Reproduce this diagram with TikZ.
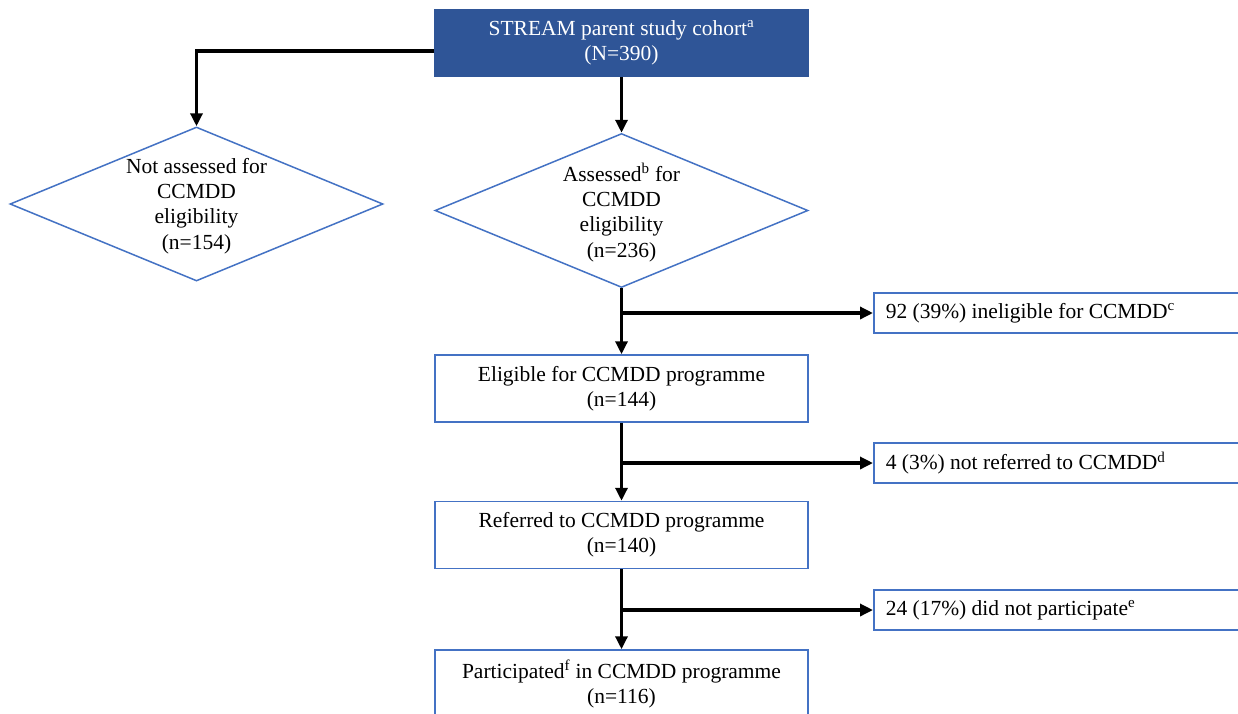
\documentclass[tikz,border=0pt]{standalone}
\usepackage{fontspec}
\setmainfont{Liberation Serif}
\usetikzlibrary{shapes.geometric,arrows.meta,calc}
\definecolor{boxblue}{HTML}{4472C4}
\definecolor{darkblue}{HTML}{2F5597}
\begin{document}
\begin{tikzpicture}[x=1pt,y=-1pt,
  txt/.style={font=\fontsize{21.5}{25.3}\selectfont, align=center, text=black, inner sep=0pt},
  mainbox/.style={draw=boxblue, line width=1.5pt, minimum width=373pt, minimum height=67pt, inner sep=0pt, txt},
  topbox/.style={mainbox, fill=darkblue, draw=darkblue, text=white, minimum height=66pt},
  dia/.style={diamond, draw=boxblue, line width=1.5pt, minimum width=373pt, minimum height=154pt, inner sep=0pt},
  sidebox/.style={draw=boxblue, line width=1.5pt, txt, align=flush left, text width=376pt, inner xsep=12pt, inner ysep=0pt, minimum height=40pt, anchor=west},
  arr/.style={line width=3.5pt, -{Triangle[length=13pt,width=12pt]}}]
\useasboundingbox (0,0) rectangle (1238,713);
\fill[white] (0,0) rectangle (1238,713);
\clip (0,0) rectangle (1238,713);

\node[topbox] (top) at (621.5,43) {STREAM parent study cohort\textsuperscript{a}\\(N=390)};

\node[dia] (d1) at (196.5,204) {};
\node[txt, yshift=-2pt] (d1t) at (d1) {Not assessed for\\CCMDD\\eligibility\\(n=154)};

\node[dia] (d2) at (621.5,210.5) {};
\node[txt, yshift=-2pt] (d2t) at (d2) {Assessed\textsuperscript{b} for\\CCMDD\\eligibility\\(n=236)};

\node[mainbox] (elig) at (621.5,388.5) {Eligible for CCMDD programme\\(n=144)};
\node[mainbox] (ref) at (621.5,535) {Referred to CCMDD programme\\(n=140)};
\node[mainbox, minimum height=68pt] (part) at (621.5,684) {Participated\textsuperscript{f} in CCMDD programme\\(n=116)};

\node[sidebox] (s1) at (873,313) {92 (39\%) ineligible for CCMDD\textsuperscript{c}};
\node[sidebox] (s2) at (873,463) {4 (3\%) not referred to CCMDD\textsuperscript{d}};
\node[sidebox] (s3) at (873,610) {24 (17\%) did not participate\textsuperscript{e}};

\draw[arr] ([yshift=-8pt]top.west) -| (d1.north);
\draw[arr] (top.south) -- (d2.north);
\draw[arr] (d2.south) -- (elig.north);
\draw[arr] (elig.south) -- (ref.north);
\draw[arr] (ref.south) -- (part.north);

\draw[arr] (d2.south |- s1.west) -- (s1.west);
\draw[arr] (elig.south |- s2.west) -- (s2.west);
\draw[arr] (ref.south |- s3.west) -- (s3.west);
\end{tikzpicture}
\end{document}
